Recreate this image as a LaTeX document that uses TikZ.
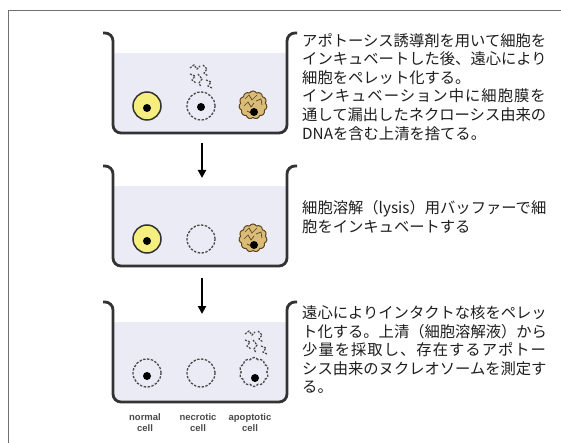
\documentclass[tikz,border=0pt]{standalone}
\usepackage{fontspec}
\newfontfamily\jp{Noto Sans CJK JP}
\newfontfamily\lbl{Liberation Sans}
\usetikzlibrary{arrows.meta,shapes.symbols}
\definecolor{glassline}{HTML}{333333}
\definecolor{liquidfill}{HTML}{EBEBF5}
\definecolor{cellyellow}{HTML}{F6EE7E}
\definecolor{apoptan}{HTML}{D9BC78}
\definecolor{apopline}{HTML}{5E4520}
\definecolor{dashgray}{HTML}{4A4A4A}
\definecolor{framegray}{HTML}{707070}
\definecolor{textgray}{HTML}{1E1E1E}

% one beaker, #1 = height of the rim
\newcommand{\beaker}[1]{%
  \fill[liquid] (113,#1+20) rectangle (287,#1+90);
  \fill[liquid, rounded corners=8] (113,#1+70) rectangle (287,#1+100);
  \draw[glass] (103,#1) -- (113,#1) -- (113,#1+100) -- (287,#1+100)
    -- (287,#1) -- (297,#1);
}
% loose dna fragments
\newcommand{\debris}[1]{%
  \begin{scope}[shift={#1}]
    \draw[bits] (-11,-9) -- (-7,-12) -- (-4,-8) -- (-1,-11);
    \draw[bits] (2,-12) -- (6,-8) -- (3,-4) -- (7,-1);
    \draw[bits] (-11,-3) -- (-6,-1) -- (-9,3) -- (-5,6);
    \draw[bits] (-3,-3) -- (1,2) -- (-2,6) -- (0,10);
    \draw[bits] (5,3) -- (10,5) -- (7,9) -- (11,11);
  \end{scope}
}
% folded inside of an apoptotic cell
\newcommand{\crinkle}[1]{%
  \begin{scope}[shift={#1}]
    \draw[fold] (-8,-5) -- (-4,-9) -- (-1,-4) -- (4,-9);
    \draw[fold] (-9,2) -- (-5,-2) -- (-2,3) -- (1,-1);
    \draw[fold] (3,-3) -- (8,-5) -- (9,1);
    \draw[fold] (-6,7) -- (-2,9);
  \end{scope}
}
\newcommand{\spaced}[1]{{\addfontfeature{LetterSpace=6.7}#1}}

\begin{document}
\begin{tikzpicture}[x=1pt,y=-1pt]
    \tikzset{%
      glass/.style={draw=glassline, line width=2.8pt, rounded corners=8},
      liquid/.style={fill=liquidfill},
      normal/.style={circle, draw=glassline, fill=cellyellow, line width=1.5pt,
        minimum size=28pt, inner sep=0pt},
      lysed/.style={circle, draw=dashgray, line width=1.3pt,
        dash pattern=on 2.4pt off 1.5pt, minimum size=28pt, inner sep=0pt},
      apop/.style={cloud, cloud puffs=11, cloud puff arc=120, aspect=1,
        draw=apopline, fill=apoptan, line width=1pt, minimum size=28pt,
        inner sep=0pt},
      apoplysed/.style={cloud, cloud puffs=10, cloud puff arc=120, aspect=1,
        draw=dashgray, line width=1.3pt, dash pattern=on 2.4pt off 1.5pt,
        minimum size=29pt, inner sep=0pt},
      nuc/.style={circle, fill=black, inner sep=0pt, minimum size=8pt},
      bits/.style={draw=dashgray, line width=1.2pt, dash pattern=on 2pt off 1.2pt},
      fold/.style={draw=apopline, line width=0.7pt},
      flow/.style={line width=2.6pt, -{Triangle[length=8pt,width=8pt]}},
      note/.style={anchor=north west, inner sep=0pt, align=left, text=textgray,
        font=\jp\fontsize{15.3}{18.6}\selectfont},
      celllabel/.style={align=center, text=dashgray,
        font=\lbl\bfseries\fontsize{9.5}{11.5}\selectfont},
    }
    \useasboundingbox (0,0) rectangle (561,443);
    \fill[white] (0,0) rectangle (561,443);
    \draw[framegray, line width=1.3pt] (8.5,443) -- (8.5,10.5) -- (561,10.5);

    % first beaker: induced cells
    \beaker{33}
    \node[normal] (N1) at (147,106) {};
    \node[nuc] at (147,108) {};
    \node[lysed] (K1) at (201,106) {};
    \node[nuc] at (201,107) {};
    \debris{(201,77)}
    \node[apop] (P1) at (253,105) {};
    \crinkle{(253,104)}
    \node[nuc] at (254,112) {};

    % second beaker: lysis buffer
    \beaker{166}
    \node[normal] (N2) at (147,239) {};
    \node[nuc] at (147,241) {};
    \node[lysed] (K2) at (201,239) {};
    \node[apop] (P2) at (253,238) {};
    \crinkle{(253,237)}
    \node[nuc] at (254,245) {};

    % third beaker: nuclei pelleted
    \beaker{302}
    \node[lysed] (N3) at (147,373) {};
    \node[nuc] at (147,376) {};
    \node[lysed] (K3) at (201,373) {};
    \node[apoplysed] (P3) at (254,372) {};
    \node[nuc] at (255,378) {};
    \debris{(256,343)}

    \coordinate (A1) at (202,143);
    \coordinate (A2) at (202,178);
    \coordinate (A3) at (202,278);
    \coordinate (A4) at (202,314);
    \draw[flow] (A1) -- (A2);
    \draw[flow] (A3) -- (A4);

    \node[celllabel] (L1) at (145,422.5) {normal\\cell};
    \node[celllabel] (L2) at (198,422.5) {necrotic\\cell};
    \node[celllabel] (L3) at (250,422.5) {apoptotic\\cell};

    \node[note] (step1) at (302,33) {アポトーシス誘導剤を用いて細胞を\\
      インキュベートした後、遠心により\\
      細胞をペレット化する。\\
      \spaced{インキュベーション中に細胞膜を}\\
      通して漏出したネクローシス由来の\\
      DNAを含む上清を捨てる。};
    \node[note] (step2) at (302,200.5) {細胞溶解（lysis）用バッファーで細\\
      胞をインキュベートする};
    \node[note] (step3) at (302,305.5) {遠心によりインタクトな核をペレッ\\
      ト化する。上清（細胞溶解液）から\\
      \spaced{少量を採取し、存在するアポトー}\\
      シス由来のヌクレオソームを測定す\\
      る。};
\end{tikzpicture}
\end{document}
